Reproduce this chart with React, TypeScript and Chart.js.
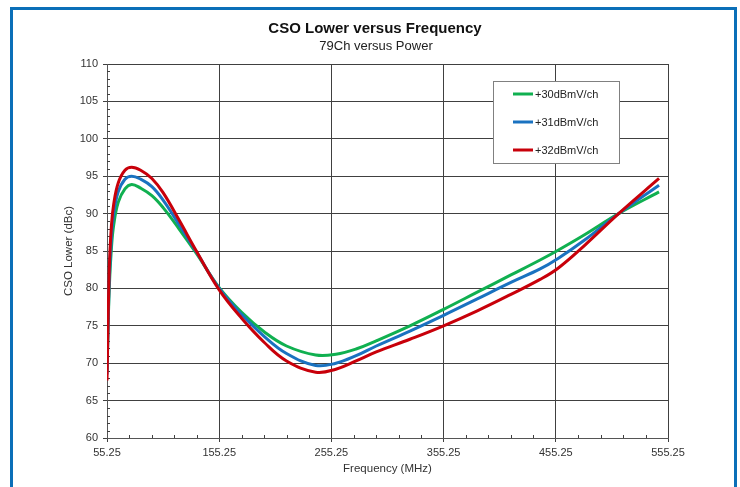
import React, { useEffect, useRef } from 'react';
import { Chart, registerables } from 'chart.js';

Chart.register(...registerables);

// ---- data ----
const FREQS = [55.25, 57.25, 59.25, 61.25, 65.25, 71.25, 77.25, 85.25, 95.25, 105.25, 119.25, 135.25, 155.25, 175.25, 195.25, 215.25, 241.25, 259.25, 277.25, 295.25, 325.25, 355.25, 385.25, 415.25, 441.25, 457.25, 481.25, 511.25, 547.25];
const CSO_30 = [69.0, 80.0, 85.5, 88.5, 91.5, 93.3, 93.9, 93.4, 92.4, 90.8, 88.0, 84.6, 80.1, 76.8, 74.2, 72.3, 71.1, 71.2, 71.9, 73.0, 75.0, 77.2, 79.5, 81.8, 83.8, 85.1, 87.2, 90.0, 92.9];
const CSO_31 = [68.5, 81.0, 87.0, 90.0, 92.9, 94.6, 95.0, 94.6, 93.6, 91.8, 88.6, 84.8, 80.0, 76.5, 73.6, 71.3, 69.7, 70.0, 71.0, 72.3, 74.3, 76.4, 78.6, 80.8, 82.6, 84.0, 86.5, 90.0, 93.8];
const CSO_32 = [67.7, 82.5, 88.5, 91.3, 94.1, 95.8, 96.2, 95.8, 94.7, 92.8, 89.2, 84.9, 79.8, 76.0, 72.8, 70.3, 68.8, 69.2, 70.3, 71.5, 73.2, 75.0, 77.0, 79.2, 81.2, 82.7, 85.8, 90.0, 94.7];
const SERIES_LABELS = ['+30dBmV/ch', '+31dBmV/ch', '+32dBmV/ch'];
const X_TICKS = [55.25, 155.25, 255.25, 355.25, 455.25, 555.25];
const Y_MIN = 60;
const Y_MAX = 110;
const Y_STEP = 5;
const TITLE = 'CSO Lower versus Frequency';
const SUBTITLE = '79Ch versus Power';
const X_TITLE = 'Frequency (MHz)';
const Y_TITLE = 'CSO Lower (dBc)';

const COLORS = ['#10b050', '#1a72c0', '#c8000a'];
const FONT = '"Liberation Sans", Arial, sans-serif';
const GRID = '#404040';
const TEXT = '#333333';

const decor = {
  id: 'decor',
  beforeDraw(chart: any) {
    const c = chart.ctx;
    c.save();
    c.fillStyle = '#ffffff';
    c.fillRect(0, 0, chart.width, chart.height);
    c.restore();
  },
  beforeDatasetsDraw(chart: any) {
    const c = chart.ctx;
    const xs = chart.scales.x;
    const ys = chart.scales.y;
    const a = chart.chartArea;
    c.save();
    c.strokeStyle = GRID;
    c.lineWidth = 1;
    c.beginPath();
    for (let v = Y_MIN + 1; v < Y_MAX; v++) {
      if ((v - Y_MIN) % Y_STEP === 0) continue;
      const y = Math.round(ys.getPixelForValue(v)) + 0.5;
      c.moveTo(a.left, y);
      c.lineTo(a.left + 3, y);
    }
    for (let f = X_TICKS[0] + 20; f < X_TICKS[X_TICKS.length - 1]; f += 20) {
      if (Math.abs(((f - X_TICKS[0]) % 100)) < 1e-6) continue;
      const x = Math.round(xs.getPixelForValue(f)) + 0.5;
      c.moveTo(x, a.bottom);
      c.lineTo(x, a.bottom - 3);
    }
    c.stroke();
    c.restore();
  },
  afterDraw(chart: any) {
    const c = chart.ctx;
    const a = chart.chartArea;
    c.save();
    // legend
    const bx = 493.5, by = 81.5, bw = 126, bh = 82;
    c.fillStyle = '#ffffff';
    c.fillRect(bx, by, bw, bh);
    c.strokeStyle = '#808080';
    c.lineWidth = 1;
    c.strokeRect(bx, by, bw, bh);
    const rows = [94, 122, 150];
    c.font = `11px ${FONT}`;
    c.textBaseline = 'middle';
    c.textAlign = 'left';
    SERIES_LABELS.forEach((lab, i) => {
      c.strokeStyle = COLORS[i];
      c.lineWidth = 3;
      c.beginPath();
      c.moveTo(513, rows[i]);
      c.lineTo(533, rows[i]);
      c.stroke();
      c.fillStyle = '#222';
      c.fillText(lab, 535, rows[i] + 0.5);
    });
    // titles
    c.fillStyle = '#111';
    c.textAlign = 'center';
    c.font = `bold 15px ${FONT}`;
    c.fillText(TITLE, 375, 29);
    c.font = `13px ${FONT}`;
    c.fillStyle = '#222';
    c.fillText(SUBTITLE, 376, 46);
    // axis titles
    c.font = `11.5px ${FONT}`;
    c.fillStyle = TEXT;
    c.fillText(X_TITLE, (a.left + a.right) / 2, 469);
    c.save();
    c.translate(69, (a.top + a.bottom) / 2);
    c.rotate(-Math.PI / 2);
    c.fillText(Y_TITLE, 0, 0);
    c.restore();
    // frame
    c.strokeStyle = '#0b6fb8';
    c.lineWidth = 3;
    c.beginPath();
    c.moveTo(11.5, chart.height + 2);
    c.lineTo(11.5, 8.5);
    c.lineTo(735.5, 8.5);
    c.lineTo(735.5, chart.height + 2);
    c.stroke();
    c.restore();
  },
};

export default function App() {
  const ref = useRef<HTMLCanvasElement>(null);
  useEffect(() => {
    const canvas = ref.current;
    if (!canvas) return;
    const mk = (vals: number[]) => FREQS.map((f, i) => ({ x: f, y: vals[i] }));
    const series = [CSO_30, CSO_31, CSO_32];
    const chart = new Chart(canvas, {
      type: 'line',
      data: {
        datasets: series.map((vals, i) => ({
          label: SERIES_LABELS[i],
          data: mk(vals),
          borderColor: COLORS[i],
          backgroundColor: COLORS[i],
          borderWidth: 3,
          pointRadius: 0,
          fill: false,
          tension: 0.4,
          order: 2 - i,
        })),
      },
      options: {
        responsive: false,
        animation: false,
        devicePixelRatio: 1,
        layout: { padding: { top: 64, right: 72, left: 0, bottom: 0 } },
        plugins: {
          legend: { display: false },
          tooltip: { enabled: false },
          title: { display: false },
        },
        scales: {
          x: {
            type: 'linear',
            min: X_TICKS[0],
            max: X_TICKS[X_TICKS.length - 1],
            afterBuildTicks: (s: any) => {
              s.ticks = X_TICKS.map((v) => ({ value: v }));
            },
            afterFit: (s: any) => {
              s.height = 49;
            },
            ticks: {
              callback: (v: any) => Number(v).toFixed(2),
              maxRotation: 0,
              autoSkip: false,
              padding: 4,
              color: TEXT,
              font: { family: FONT, size: 11 },
            },
            grid: { color: GRID, lineWidth: 1, tickLength: 4, tickColor: GRID },
            border: { color: '#555', width: 1 },
          },
          y: {
            type: 'linear',
            min: Y_MIN,
            max: Y_MAX,
            afterFit: (s: any) => {
              s.width = 107;
            },
            ticks: {
              stepSize: Y_STEP,
              padding: 5,
              color: TEXT,
              font: { family: FONT, size: 11 },
            },
            grid: { color: GRID, lineWidth: 1, tickLength: 4, tickColor: GRID },
            border: { color: '#555', width: 1 },
          },
        },
      },
      plugins: [decor],
    });
    return () => chart.destroy();
  }, []);
  return (
    <div style={{ position: 'fixed', left: 0, top: 0, width: 740, height: 487, background: '#fff' }}>
      <canvas ref={ref} width={740} height={487} style={{ display: 'block', width: 740, height: 487 }} />
    </div>
  );
}
